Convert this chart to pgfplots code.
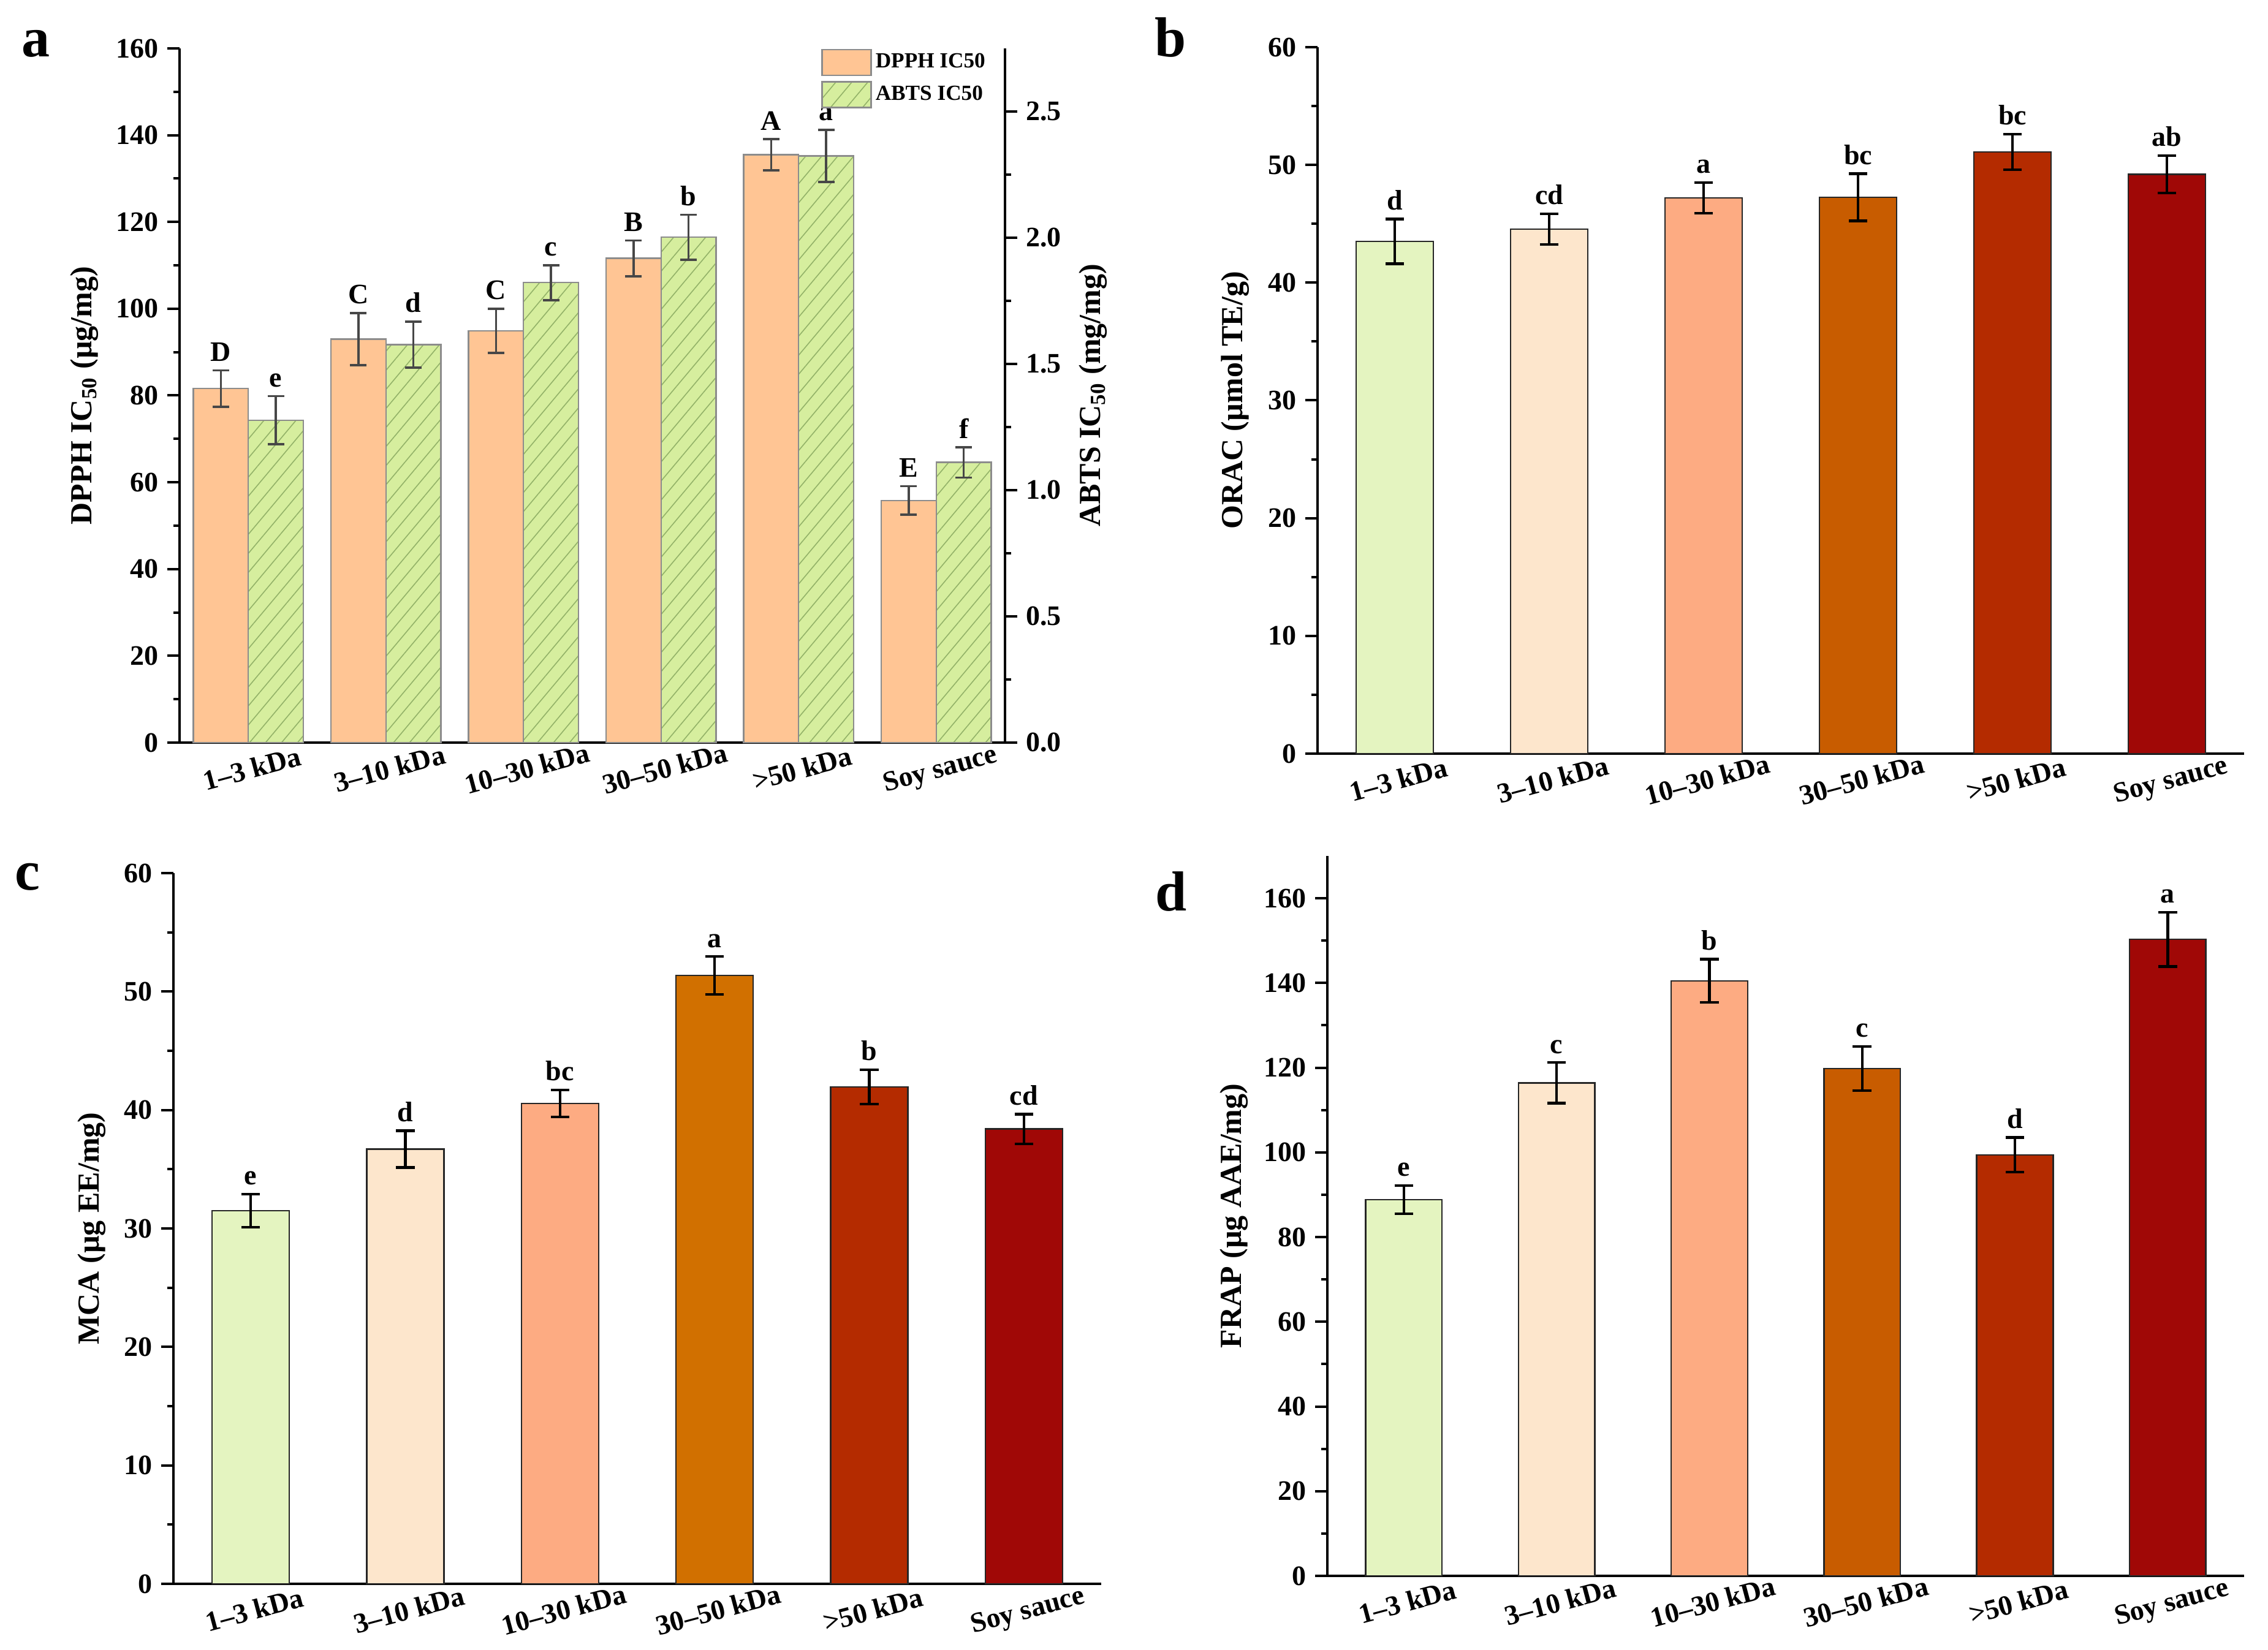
\documentclass[border=0pt]{standalone}
\usepackage{fontspec}
\setmainfont{Liberation Serif}
\usepackage{pgfplots}
\pgfplotsset{compat=1.18}
\usetikzlibrary{patterns.meta}

\definecolor{cA}{HTML}{E4F4C0}
\definecolor{cB}{HTML}{FDE6CC}
\definecolor{cC}{HTML}{FDAB82}
\definecolor{cD}{HTML}{C85C00}
\definecolor{cDc}{HTML}{D17000}
\definecolor{cE}{HTML}{B42B00}
\definecolor{cF}{HTML}{A00806}
\definecolor{dpphc}{HTML}{FFC594}
\definecolor{abtsc}{HTML}{D6EE9E}
\definecolor{hatchc}{HTML}{93B268}
\definecolor{edgegray}{HTML}{8C8C8C}

\pgfplotsset{
  mybase/.style={
    scale only axis,
    axis x line*=bottom, axis y line*=left,
    axis line style={-, line width=1pt, black},
    xmin=-0.5, xmax=5.5,
    xtick={0,...,5},
    xticklabels={1–3 kDa, 3–10 kDa, 10–30 kDa, 30–50 kDa, >50 kDa, Soy sauce},
    x tick label style={rotate=15, anchor=north, font=\fontsize{11.5}{11.5}\selectfont\bfseries, inner sep=1.5pt},
    major x tick style={draw=none},
    tick align=outside,
    major tick length=5pt, minor tick length=2.5pt,
    every tick/.style={black, line width=1pt},
    minor y tick num=1,
    y tick label style={font=\fontsize{11.5}{11.5}\selectfont\bfseries},
    /pgf/number format/assume math mode=true,
    ylabel style={font=\fontsize{12.5}{12.5}\selectfont\bfseries, anchor=center},
    ymin=0,
    clip=false,
  },
  barsty/.style={ybar, bar width=0.5, bar shift=0pt, draw=black!85, line width=0.6pt,
    error bars/.cd, y dir=both, y explicit,
    error bar style={line width=1.1pt, black},
    error mark options={rotate=90, line width=1.1pt, mark size=3.8pt, black}},
  abarsty/.style={ybar, bar width=0.4, bar shift=0pt, draw=edgegray, line width=0.6pt,
    error bars/.cd, y dir=both, y explicit,
    error bar style={line width=0.9pt, black!72},
    error mark options={rotate=90, line width=0.9pt, mark size=3.4pt, black!72}},
  lettersty/.style={draw=none, mark=none, nodes near coords, point meta=explicit symbolic,
    every node near coord/.append style={anchor=south, yshift=2pt, font=\fontsize{11.5}{11.5}\selectfont\bfseries, inner sep=1.5pt, black}},
}
\newcommand{\onebar}[4]{\addplot[fill=#1, barsty] coordinates {(#2,#3) +- (0,#4)};}

\begin{document}
\begin{tikzpicture}
\useasboundingbox (0,0) rectangle (925.25pt,673.25pt);

% ---------------- panel a (left axis: DPPH)
\begin{axis}[mybase, at={(73.25pt,370.25pt)}, anchor=south west,
  width=336.75pt, height=283.25pt, ymax=160, ytick={0,20,...,160},
  ylabel={DPPH IC\textsubscript{50} (µg/mg)},
  ylabel style={at={(axis description cs:-0.115,0.5)}}]
% DPPH bars drawn left of each category centre (x - 0.2)
\addplot[fill=dpphc, abarsty]
  coordinates {(-0.2,81.6) +- (0,4.2) (0.8,93.0) +- (0,6.0) (1.8,94.9) +- (0,5.1)
               (2.8,111.6) +- (0,4.1) (3.8,135.5) +- (0,3.6) (4.8,55.8) +- (0,3.3)};
\addplot[lettersty] coordinates {(-0.2,85.8)[D] (0.8,99.0)[C] (1.8,100.0)[C]
               (2.8,115.7)[B] (3.8,139.1)[A] (4.8,59.1)[E]};
\end{axis}

% ---------------- panel a (right axis: ABTS)
\begin{axis}[at={(73.25pt,370.25pt)}, anchor=south west, scale only axis,
  width=336.75pt, height=283.25pt, clip=false,
  axis x line=none, axis y line*=right,
  axis line style={-, line width=1pt, black},
  xmin=-0.5, xmax=5.5, ymin=0, ymax=2.75,
  ytick={0,0.5,...,2.5}, minor y tick num=1,
  tick align=outside, major tick length=5pt, minor tick length=2.5pt,
  every tick/.style={black, line width=1pt},
  /pgf/number format/assume math mode=true,
  yticklabel style={font=\fontsize{11.5}{11.5}\selectfont\bfseries, /pgf/number format/.cd, fixed, fixed zerofill, precision=1},
  ylabel={ABTS IC\textsubscript{50} (mg/mg)},
  ylabel style={font=\fontsize{12.5}{12.5}\selectfont\bfseries, at={(axis description cs:1.107,0.5)}, anchor=center},
  legend style={at={(axis description cs:0.777,1)}, anchor=north west, draw=none, fill=none,
    font=\fontsize{8.8}{9}\selectfont\bfseries, row sep=2pt, inner sep=0pt,
    nodes={inner sep=1.5pt}},
  legend cell align=left]
\addlegendimage{legend image code/.code={\draw[fill=dpphc, draw=edgegray, line width=0.6pt] (0pt,-5.25pt) rectangle (20pt,5.25pt);}}
\addlegendentry{DPPH IC50}
\addlegendimage{legend image code/.code={\draw[fill=abtsc, draw=edgegray, line width=0.6pt, postaction={pattern={Lines[angle=50,distance=5pt,line width=0.4pt]}, pattern color=hatchc}] (0pt,-5.25pt) rectangle (20pt,5.25pt);}}
\addlegendentry{ABTS IC50}
% ABTS bars drawn right of each category centre (x + 0.2)
\addplot[forget plot, fill=abtsc,
  postaction={pattern={Lines[angle=50,distance=5pt,line width=0.4pt]}, pattern color=hatchc},
  abarsty]
  coordinates {(0.2,1.277) +- (0,0.095) (1.2,1.576) +- (0,0.091) (2.2,1.822) +- (0,0.069)
               (3.2,2.002) +- (0,0.089) (4.2,2.324) +- (0,0.103) (5.2,1.110) +- (0,0.060)};
\addplot[forget plot, lettersty] coordinates {(0.2,1.372)[e] (1.2,1.667)[d] (2.2,1.891)[c]
               (3.2,2.091)[b] (4.2,2.427)[a] (5.2,1.170)[f]};
\end{axis}

% ---------------- panel b
\begin{axis}[mybase, at={(537.5pt,365.75pt)}, anchor=south west,
  width=378pt, height=288.25pt, ymax=60, ytick={0,10,...,60},
  ylabel={ORAC (µmol TE/g)},
  ylabel style={at={(axis description cs:-0.089,0.5)}}]
\onebar{cA}{0}{43.5}{1.9}
\onebar{cB}{1}{44.55}{1.3}
\onebar{cC}{2}{47.2}{1.3}
\onebar{cD}{3}{47.25}{2.0}
\onebar{cE}{4}{51.1}{1.5}
\onebar{cF}{5}{49.2}{1.6}
\addplot[lettersty] coordinates {(0,45.4)[d] (1,45.85)[cd] (2,48.5)[a]
               (3,49.25)[bc] (4,52.6)[bc] (5,50.8)[ab]};
\end{axis}

% ---------------- panel c
\begin{axis}[mybase, at={(70.75pt,27pt)}, anchor=south west,
  width=378.5pt, height=290pt, ymax=60, ytick={0,10,...,60},
  ylabel={MCA (µg EE/mg)},
  ylabel style={at={(axis description cs:-0.088,0.5)}}]
\onebar{cA}{0}{31.5}{1.4}
\onebar{cB}{1}{36.7}{1.55}
\onebar{cC}{2}{40.55}{1.15}
\onebar{cDc}{3}{51.35}{1.6}
\onebar{cE}{4}{41.95}{1.45}
\onebar{cF}{5}{38.4}{1.25}
\addplot[lettersty] coordinates {(0,32.9)[e] (1,38.25)[d] (2,41.7)[bc]
               (3,52.95)[a] (4,43.4)[b] (5,39.65)[cd]};
\end{axis}

% ---------------- panel d
\begin{axis}[mybase, at={(541.5pt,30.25pt)}, anchor=south west,
  width=374pt, height=293.75pt, ymax=170, ytick={0,20,...,160},
  ylabel={FRAP (µg AAE/mg)},
  ylabel style={at={(axis description cs:-0.102,0.5)}}]
\onebar{cA}{0}{88.85}{3.35}
\onebar{cB}{1}{116.4}{4.8}
\onebar{cC}{2}{140.5}{5.1}
\onebar{cD}{3}{119.8}{5.2}
\onebar{cE}{4}{99.4}{4.1}
\onebar{cF}{5}{150.3}{6.4}
\addplot[lettersty] coordinates {(0,92.2)[e] (1,121.2)[c] (2,145.6)[b]
               (3,125.0)[c] (4,103.5)[d] (5,156.7)[a]};
\end{axis}

% panel letters
\node[anchor=base west, font=\fontsize{23}{23}\selectfont\bfseries, inner sep=0pt] at (8.75pt,650pt) {a};
\node[anchor=base west, font=\fontsize{23}{23}\selectfont\bfseries, inner sep=0pt] at (471pt,650pt) {b};
\node[anchor=base west, font=\fontsize{23}{23}\selectfont\bfseries, inner sep=0pt] at (6pt,310pt) {c};
\node[anchor=base west, font=\fontsize{23}{23}\selectfont\bfseries, inner sep=0pt] at (471.25pt,301.5pt) {d};
\end{tikzpicture}
\end{document}
